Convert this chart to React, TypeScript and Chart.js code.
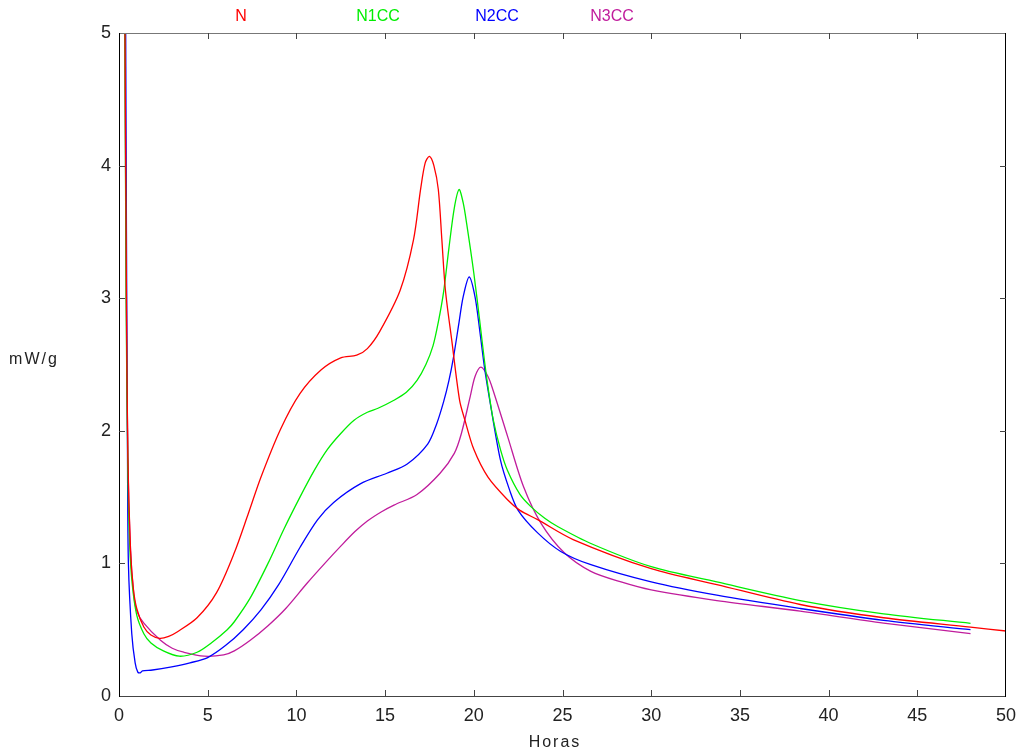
import React, { useEffect, useRef } from "react";
import { Chart, registerables } from "chart.js";

Chart.register(...registerables);

// ---- data (hours, mW/g) ----
const nX = [0.3, 0.42, 0.5, 0.65, 0.8, 1.0, 1.4, 1.8, 2.3, 2.8, 3.3, 4.4, 5.5, 6.5, 7.3, 8.0, 9.1, 10.2, 11.4, 12.5, 13.4, 14.0, 14.7, 15.85, 16.6, 17.0, 17.26, 17.5, 17.75, 18.0, 18.2, 18.4, 18.76, 19.2, 19.5, 20.0, 20.8, 21.9, 22.6, 23.6, 25.6, 30.0, 33.7, 38.4, 43.1, 48.0, 50.0];
const nY = [6.0, 3.0, 1.8, 1.1, 0.82, 0.66, 0.52, 0.46, 0.435, 0.45, 0.485, 0.59, 0.78, 1.08, 1.38, 1.65, 2.01, 2.28, 2.46, 2.55, 2.57, 2.62, 2.75, 3.06, 3.44, 3.82, 4.02, 4.07, 4.0, 3.82, 3.44, 3.06, 2.68, 2.23, 2.08, 1.86, 1.65, 1.48, 1.4, 1.33, 1.18, 0.96, 0.84, 0.69, 0.59, 0.52, 0.49];

const n1X = [0.3, 0.4, 0.5, 0.6, 0.74, 1.0, 1.4, 1.8, 2.5, 3.4, 4.4, 5.2, 6.1, 6.5, 7.4, 8.4, 9.3, 10.2, 11.0, 11.75, 12.5, 13.25, 14.0, 14.6, 15.5, 16.2, 16.8, 17.3, 17.7, 18.0, 18.3, 18.6, 18.9, 19.17, 19.4, 19.6, 20.0, 20.35, 20.6, 20.8, 21.1, 21.5, 21.9, 22.6, 23.2, 24.0, 24.7, 26.6, 30.0, 33.7, 38.4, 43.1, 48.0];
const n1Y = [6.0, 3.0, 1.7, 1.15, 0.85, 0.61, 0.47, 0.4, 0.34, 0.3, 0.33, 0.4, 0.5, 0.56, 0.74, 1.0, 1.26, 1.5, 1.7, 1.86, 1.98, 2.08, 2.14, 2.17, 2.23, 2.29, 2.38, 2.5, 2.64, 2.82, 3.05, 3.38, 3.68, 3.82, 3.72, 3.56, 3.19, 2.81, 2.53, 2.33, 2.08, 1.86, 1.7, 1.52, 1.43, 1.34, 1.28, 1.15, 0.975, 0.86, 0.72, 0.62, 0.548];

const n2X = [0.35, 0.42, 0.48, 0.53, 0.72, 0.91, 1.06, 1.2, 1.32, 1.89, 2.97, 4.0, 5.0, 6.0, 7.0, 8.0, 9.0, 10.2, 11.2, 12.1, 13.6, 15.1, 16.25, 17.4, 17.9, 18.3, 18.6, 18.85, 19.17, 19.4, 19.74, 20.07, 20.35, 20.6, 20.9, 21.5, 22.0, 22.5, 23.6, 24.9, 26.6, 30.0, 33.7, 38.4, 43.1, 48.0];
const n2Y = [6.0, 3.5, 1.8, 1.0, 0.47, 0.25, 0.18, 0.175, 0.19, 0.196, 0.22, 0.25, 0.29, 0.38, 0.5, 0.65, 0.84, 1.12, 1.33, 1.46, 1.6, 1.68, 1.75, 1.9, 2.05, 2.22, 2.38, 2.55, 2.82, 3.01, 3.16, 3.01, 2.74, 2.48, 2.23, 1.78, 1.56, 1.4, 1.23, 1.09, 0.99, 0.86, 0.76, 0.66, 0.57, 0.5];

const n3X = [0.3, 0.4, 0.5, 0.65, 0.83, 1.0, 1.4, 2.34, 3.0, 3.65, 4.8, 5.9, 6.5, 7.4, 8.4, 9.4, 10.6, 11.6, 12.5, 13.3, 14.0, 14.8, 15.5, 16.8, 18.1, 18.9, 19.3, 19.8, 20.07, 20.4, 20.8, 21.1, 21.9, 22.8, 23.8, 25.1, 26.6, 28.3, 30.0, 33.7, 38.4, 43.1, 48.0];
const n3Y = [6.0, 3.2, 1.8, 1.1, 0.77, 0.64, 0.55, 0.42, 0.36, 0.33, 0.3, 0.31, 0.34, 0.42, 0.53, 0.66, 0.85, 1.0, 1.13, 1.24, 1.32, 1.39, 1.44, 1.52, 1.68, 1.83, 1.98, 2.26, 2.41, 2.48, 2.41, 2.3, 1.96, 1.58, 1.3, 1.08, 0.94, 0.86, 0.8, 0.72, 0.64, 0.55, 0.47];

const seriesNames = ["N", "N1CC", "N2CC", "N3CC"];
const seriesColors = ["#ff0000", "#00ee00", "#0000ff", "#c01c9c"];
const legendX = [241, 378, 497, 612];

const xTicks = [0, 5, 10, 15, 20, 25, 30, 35, 40, 45, 50];
const yTicks = [0, 1, 2, 3, 4, 5];
const xTitle = "Horas";
const yTitle = "mW/g";

const zip = (xs: number[], ys: number[]) => xs.map((x, i) => ({ x, y: ys[i] }));

const framePlugin = {
  id: "frame",
  afterDraw(chart: any) {
    const { ctx, chartArea, scales } = chart;
    const { left, right, top, bottom } = chartArea;
    const xs = scales.x;
    const ys = scales.y;
    ctx.save();
    ctx.lineWidth = 1;
    ctx.strokeStyle = "#777";
    ctx.beginPath();
    ctx.moveTo(left, top + 0.5);
    ctx.lineTo(right, top + 0.5);
    ctx.stroke();
    ctx.strokeStyle = "#444";
    ctx.beginPath();
    ctx.moveTo(left, bottom + 0.5);
    ctx.lineTo(right, bottom + 0.5);
    ctx.stroke();
    ctx.strokeStyle = "#000";
    ctx.beginPath();
    ctx.moveTo(left + 0.5, top);
    ctx.lineTo(left + 0.5, bottom + 1);
    ctx.moveTo(right - 0.5, top);
    ctx.lineTo(right - 0.5, bottom + 1);
    ctx.stroke();
    ctx.strokeStyle = "#444";
    ctx.beginPath();
    xTicks.forEach((v) => {
      if (v === xTicks[0] || v === xTicks[xTicks.length - 1]) return;
      const px = Math.round(xs.getPixelForValue(v)) + 0.5;
      ctx.moveTo(px, bottom);
      ctx.lineTo(px, bottom - 6);
      ctx.moveTo(px, top);
      ctx.lineTo(px, top + 6);
    });
    yTicks.forEach((v) => {
      if (v === yTicks[0] || v === yTicks[yTicks.length - 1]) return;
      const py = Math.round(ys.getPixelForValue(v)) + 0.5;
      ctx.moveTo(left, py);
      ctx.lineTo(left + 6, py);
      ctx.moveTo(right, py);
      ctx.lineTo(right - 6, py);
    });
    ctx.stroke();
    ctx.fillStyle = "#222";
    ctx.font = "18px 'Liberation Sans', sans-serif";
    ctx.textAlign = "center";
    ctx.textBaseline = "middle";
    xTicks.forEach((v) => {
      ctx.fillText(String(v), xs.getPixelForValue(v), bottom + 20);
    });
    ctx.textAlign = "right";
    yTicks.forEach((v) => {
      ctx.fillText(String(v), left - 8, ys.getPixelForValue(v));
    });
    (ctx as any).letterSpacing = "2px";
    ctx.textAlign = "center";
    ctx.font = "16px 'Liberation Sans', sans-serif";
    ctx.fillText(xTitle, 555, 743);
    ctx.fillText(yTitle, 34, 360);
    (ctx as any).letterSpacing = "0px";
    ctx.font = "16px 'Liberation Sans', sans-serif";
    seriesNames.forEach((name, i) => {
      ctx.fillStyle = seriesColors[i];
      ctx.fillText(name, legendX[i], 17);
    });
    ctx.restore();
  },
};

export default function App() {
  const ref = useRef<HTMLCanvasElement | null>(null);
  useEffect(() => {
    if (!ref.current) return;
    const seriesData = [zip(nX, nY), zip(n1X, n1Y), zip(n2X, n2Y), zip(n3X, n3Y)];
    const chart = new Chart(ref.current, {
      type: "line",
      data: {
        datasets: seriesNames.map((name, i) => ({
          label: name,
          data: seriesData[i],
          borderColor: seriesColors[i],
          borderWidth: 1.3,
          pointRadius: 0,
          fill: false,
          tension: 0.3,
        })),
      },
      options: {
        responsive: false,
        animation: false,
        devicePixelRatio: 1,
        layout: { padding: { top: 33, right: 14, left: 0, bottom: 0 } },
        plugins: { legend: { display: false }, tooltip: { enabled: false } },
        scales: {
          x: {
            type: "linear",
            min: 0,
            max: 50,
            ticks: { display: false, stepSize: 5 },
            grid: { display: false },
            border: { display: false },
            afterFit: (s: any) => {
              s.height = 60;
            },
          },
          y: {
            type: "linear",
            min: 0,
            max: 5,
            ticks: { display: false, stepSize: 1 },
            grid: { display: false },
            border: { display: false },
            afterFit: (s: any) => {
              s.width = 119;
            },
          },
        },
      },
      plugins: [framePlugin],
    });
    return () => chart.destroy();
  }, []);
  return (
    <div style={{ position: "absolute", left: 0, top: 0, width: 1020, height: 756, background: "#fff" }}>
      <canvas ref={ref} width={1020} height={756} />
    </div>
  );
}
